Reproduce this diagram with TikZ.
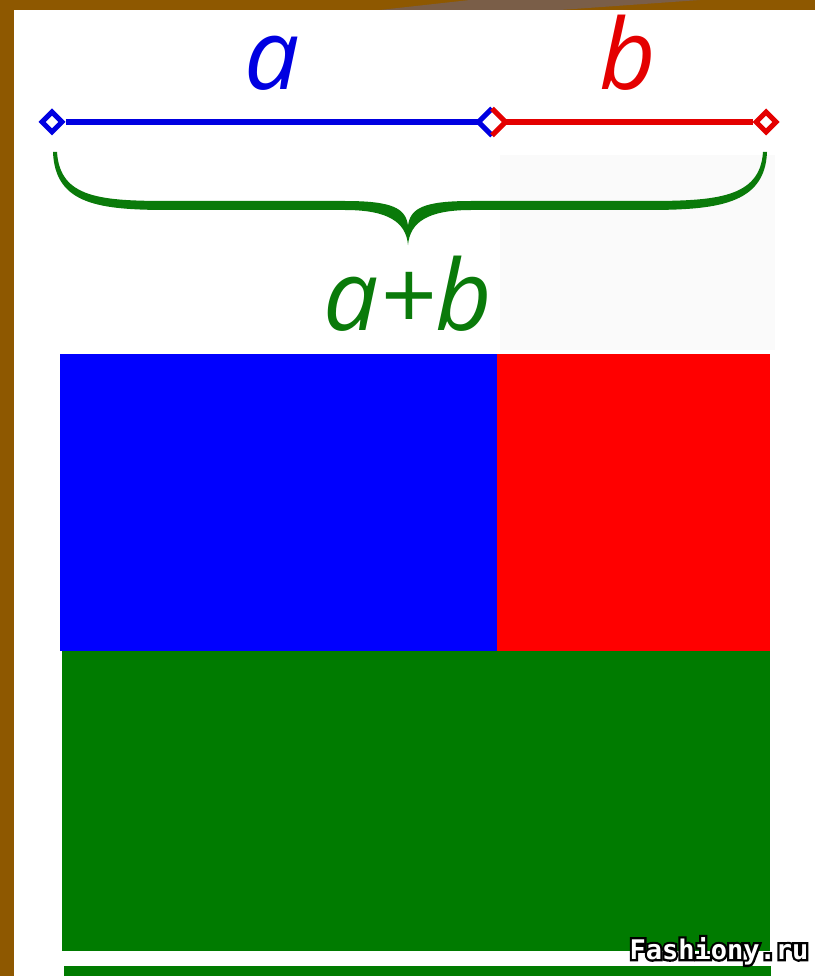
\documentclass[tikz,border=0pt]{standalone}
\usepackage{fontspec}
\setmainfont{Open Sans}
\newfontfamily\wmfont{DejaVu Sans Mono}
\usetikzlibrary{shapes.geometric}
\definecolor{framebrown}{RGB}{142,88,0}
\definecolor{streakbrown}{RGB}{122,94,72}
\definecolor{segblue}{RGB}{0,0,225}
\definecolor{segred}{RGB}{228,0,0}
\definecolor{sumgreen}{RGB}{10,122,10}
\definecolor{rectgreen}{RGB}{0,123,0}
\tikzset{
  endpt/.style={diamond, fill=white, line width=5pt, minimum size=22pt, inner sep=0pt},
  seglabel/.style={font=\fontsize{98}{98}\selectfont\itshape, inner sep=0pt, anchor=base},
  wmark/.style={font=\wmfont\bfseries\fontsize{27}{27}\selectfont, inner sep=0pt}
}
\newcommand{\goldrect}[5]{%
  \fill[#5] (#1,#2) rectangle (#3,#4);}
% black halo under white letters
\newcommand{\outlined}[1]{%
  \special{pdf:code q 2 Tr 4.5 w 0 G 0 g}\rlap{#1}\special{pdf:code Q}#1}

\begin{document}
\begin{tikzpicture}[x=1pt,y=-1pt]
  \useasboundingbox (0,0) rectangle (815,976);
  % frame and panel
  \fill[framebrown] (0,0) rectangle (815,976);
  \fill[streakbrown] (380,10) -- (470,0) -- (700,0) -- (560,10) -- cycle;
  \fill[white] (14,10) rectangle (815,976);
  \fill[black!2] (500,155) rectangle (775,350);
  % segment a and b
  \node[endpt, draw=segblue] (pa) at (52,122) {};
  \node[endpt] (pm) at (492,122) {};
  \node[endpt, draw=segred] (pb) at (766,122) {};
  \draw[segblue, line width=5pt, line join=miter] (pm.north) -- (pm.west) -- (pm.south);
  \draw[segred, line width=5pt, line join=miter] (pm.north) -- (pm.east) -- (pm.south);
  \draw[segblue, line width=6pt] (pa.east) -- (pm.west);
  \draw[segred, line width=6pt] (pm.east) -- (pb.west);
  \node[seglabel, text=segblue] (la) at (272,90) {a};
  \node[seglabel, text=segred] (lb) at (628,90) {b};
  % brace
  \coordinate (bl) at (55,152);
  \coordinate (br) at (765,152);
  \coordinate (tip) at (408,245);
  \fill[sumgreen]
    (57,152) .. controls (60,198) and (100,201) .. (170,201) -- (345,201)
    .. controls (392,201) and (406,208) .. (408,226)
    .. controls (410,208) and (424,201) .. (471,201) -- (646,201)
    .. controls (716,201) and (760,198) .. (763,152)
    -- (767,152) .. controls (765,205) and (716,210) .. (646,210) -- (471,210)
    .. controls (428,210) and (410,222) .. (tip)
    .. controls (406,222) and (388,210) .. (345,210) -- (170,210)
    .. controls (100,210) and (55,205) .. (53,152) -- cycle;
  \node[seglabel, text=sumgreen] (lab) at (408,330) {a+b};
  % rectangles
  \goldrect{60}{354}{497}{651}{blue}
  \goldrect{497}{354}{770}{651}{red}
  \goldrect{62}{651}{770}{951}{rectgreen}
  \goldrect{64}{966}{771}{976}{rectgreen}
  % watermark
  \node[wmark, text=white] (wm) at (719,951) {\outlined{Fashiony.ru}};
\end{tikzpicture}
\end{document}
